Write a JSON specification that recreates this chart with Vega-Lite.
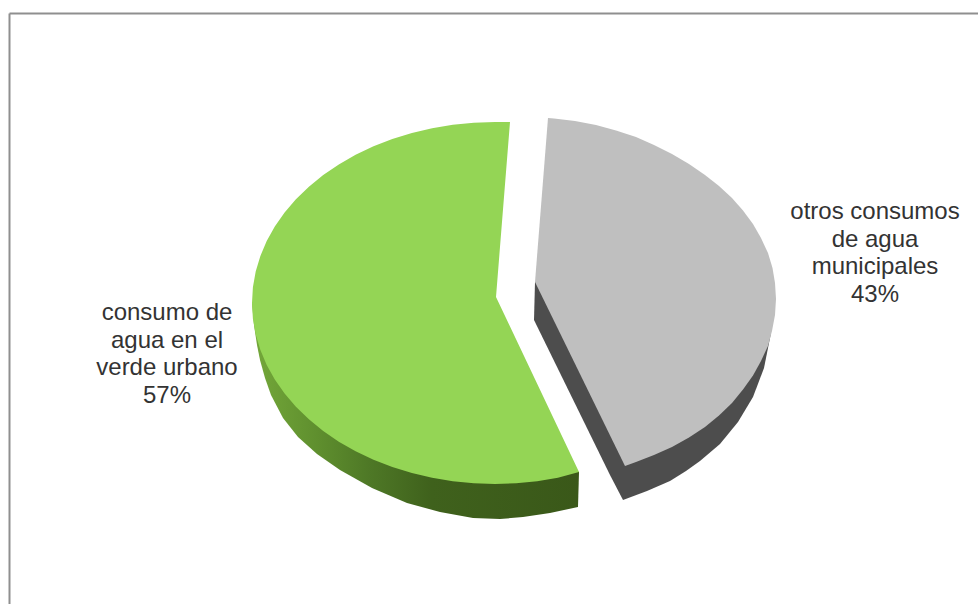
{
"$schema":"https://vega.github.io/schema/vega-lite/v6.json",
"width":969,"height":591,
"padding":{"left":9,"top":13,"right":0,"bottom":0},
"autosize":"none",
"background":"white",
"config":{"view":{"stroke":null}},
"datasets":{"outline":[
{"part":"gray side","i":0,"x":535,"y":282},{"part":"gray side","i":1,"x":534,"y":320},{"part":"gray side","i":2,"x":610,"y":475},{"part":"gray side","i":3,"x":623,"y":500},{"part":"gray side","i":4,"x":647,"y":491},{"part":"gray side","i":5,"x":670,"y":481},{"part":"gray side","i":6,"x":686,"y":471},{"part":"gray side","i":7,"x":700,"y":461},{"part":"gray side","i":8,"x":720,"y":444},{"part":"gray side","i":9,"x":738,"y":422},{"part":"gray side","i":10,"x":753,"y":397},{"part":"gray side","i":11,"x":764,"y":368},{"part":"gray side","i":12,"x":771,"y":333},{"part":"gray side","i":13,"x":700,"y":300},
{"part":"gray face","i":0,"x":548,"y":118},{"part":"gray face","i":1,"x":554,"y":118.5},{"part":"gray face","i":2,"x":575,"y":121},{"part":"gray face","i":3,"x":596,"y":125},{"part":"gray face","i":4,"x":616,"y":130.5},{"part":"gray face","i":5,"x":636,"y":137},{"part":"gray face","i":6,"x":654,"y":145},{"part":"gray face","i":7,"x":672,"y":154},{"part":"gray face","i":8,"x":689,"y":164},{"part":"gray face","i":9,"x":705,"y":175},{"part":"gray face","i":10,"x":719,"y":186},{"part":"gray face","i":11,"x":732,"y":198},{"part":"gray face","i":12,"x":743,"y":210.5},{"part":"gray face","i":13,"x":753,"y":224},{"part":"gray face","i":14,"x":761,"y":238},{"part":"gray face","i":15,"x":768,"y":253},{"part":"gray face","i":16,"x":772.5,"y":268},{"part":"gray face","i":17,"x":775,"y":283},{"part":"gray face","i":18,"x":776,"y":299},{"part":"gray face","i":19,"x":775,"y":315},{"part":"gray face","i":20,"x":772,"y":331},{"part":"gray face","i":21,"x":768,"y":346},{"part":"gray face","i":22,"x":761,"y":361},{"part":"gray face","i":23,"x":753,"y":375.5},{"part":"gray face","i":24,"x":743,"y":389.5},{"part":"gray face","i":25,"x":732,"y":403},{"part":"gray face","i":26,"x":719,"y":415.5},{"part":"gray face","i":27,"x":705,"y":427},{"part":"gray face","i":28,"x":689,"y":437.5},{"part":"gray face","i":29,"x":672,"y":447},{"part":"gray face","i":30,"x":654,"y":455},{"part":"gray face","i":31,"x":636,"y":462},{"part":"gray face","i":32,"x":625,"y":466},{"part":"gray face","i":33,"x":535,"y":282},
{"part":"green side","i":0,"x":252,"y":303},{"part":"green side","i":1,"x":254,"y":325},{"part":"green side","i":2,"x":257,"y":345},{"part":"green side","i":3,"x":260,"y":360},{"part":"green side","i":4,"x":265,"y":378},{"part":"green side","i":5,"x":271,"y":395},{"part":"green side","i":6,"x":283,"y":418},{"part":"green side","i":7,"x":298,"y":437},{"part":"green side","i":8,"x":317,"y":454},{"part":"green side","i":9,"x":340,"y":470},{"part":"green side","i":10,"x":372,"y":488},{"part":"green side","i":11,"x":407,"y":503},{"part":"green side","i":12,"x":440,"y":512},{"part":"green side","i":13,"x":473,"y":518},{"part":"green side","i":14,"x":500,"y":519},{"part":"green side","i":15,"x":523,"y":517},{"part":"green side","i":16,"x":550,"y":513},{"part":"green side","i":17,"x":578,"y":507},{"part":"green side","i":18,"x":579,"y":472},
{"part":"green face","i":0,"x":510,"y":122},{"part":"green face","i":1,"x":495,"y":122},{"part":"green face","i":2,"x":473.8,"y":122.7},{"part":"green face","i":3,"x":452.8,"y":124.8},{"part":"green face","i":4,"x":432.1,"y":128.2},{"part":"green face","i":5,"x":411.9,"y":132.9},{"part":"green face","i":6,"x":392.3,"y":139},{"part":"green face","i":7,"x":373.5,"y":146.3},{"part":"green face","i":8,"x":355.6,"y":154.7},{"part":"green face","i":9,"x":338.8,"y":164.4},{"part":"green face","i":10,"x":323.2,"y":175},{"part":"green face","i":11,"x":308.9,"y":186.7},{"part":"green face","i":12,"x":295.9,"y":199.2},{"part":"green face","i":13,"x":284.6,"y":212.5},{"part":"green face","i":14,"x":274.8,"y":226.5},{"part":"green face","i":15,"x":266.7,"y":241.1},{"part":"green face","i":16,"x":260.3,"y":256.2},{"part":"green face","i":17,"x":255.7,"y":271.6},{"part":"green face","i":18,"x":252.9,"y":287.2},{"part":"green face","i":19,"x":252,"y":303},{"part":"green face","i":20,"x":252.9,"y":318.8},{"part":"green face","i":21,"x":255.7,"y":334.4},{"part":"green face","i":22,"x":260.3,"y":349.8},{"part":"green face","i":23,"x":266.7,"y":364.9},{"part":"green face","i":24,"x":274.8,"y":379.5},{"part":"green face","i":25,"x":284.6,"y":393.5},{"part":"green face","i":26,"x":295.9,"y":406.8},{"part":"green face","i":27,"x":308.9,"y":419.3},{"part":"green face","i":28,"x":323.2,"y":431},{"part":"green face","i":29,"x":338.8,"y":441.7},{"part":"green face","i":30,"x":355.6,"y":451.3},{"part":"green face","i":31,"x":373.5,"y":459.8},{"part":"green face","i":32,"x":392.3,"y":467},{"part":"green face","i":33,"x":411.9,"y":473.1},{"part":"green face","i":34,"x":432.1,"y":477.8},{"part":"green face","i":35,"x":452.8,"y":481.2},{"part":"green face","i":36,"x":473.8,"y":483.3},{"part":"green face","i":37,"x":495,"y":484},{"part":"green face","i":38,"x":516.2,"y":483.3},{"part":"green face","i":39,"x":537.2,"y":481.2},{"part":"green face","i":40,"x":557.9,"y":477.8},{"part":"green face","i":41,"x":579,"y":472},{"part":"green face","i":42,"x":496,"y":297}
],
"labels":[
{"slice":"consumo de agua en el verde urbano","percent":57,"label":"consumo de\nagua en el\nverde urbano\n57%","x":167,"y":313},
{"slice":"otros consumos de agua municipales","percent":43,"label":"otros consumos\nde agua\nmunicipales\n43%","x":875,"y":212}
]},
"data":{"name":"outline"},
"encoding":{
"x":{"field":"x","type":"quantitative","scale":{"domain":[9,978],"nice":false,"zero":false},"axis":{"orient":"top","title":null,"labels":false,"ticks":false,"grid":false,"domain":true,"domainColor":"#8f8f8f","domainWidth":2}},
"y":{"field":"y","type":"quantitative","scale":{"domain":[604,13],"nice":false,"zero":false},"axis":{"orient":"left","title":null,"labels":false,"ticks":false,"grid":false,"domain":true,"domainColor":"#8f8f8f","domainWidth":2}},
"order":{"field":"i","type":"quantitative"}
},
"layer":[
{"transform":[{"filter":"datum.part=='gray side'"}],"mark":{"type":"line","filled":true,"fill":"#4d4d4d","stroke":null}},
{"transform":[{"filter":"datum.part=='gray face'"}],"mark":{"type":"line","filled":true,"fill":"#bfbfbf","stroke":null}},
{"transform":[{"filter":"datum.part=='green side'"}],"mark":{"type":"line","filled":true,"stroke":null,"fill":{"gradient":"linear","x1":0,"x2":1,"y1":0,"y2":0,"stops":[{"offset":0,"color":"#74a83a"},{"offset":0.2,"color":"#5f8f2e"},{"offset":0.36,"color":"#4e7826"},{"offset":0.55,"color":"#3f611c"},{"offset":1,"color":"#3a5819"}]}}},
{"transform":[{"filter":"datum.part=='green face'"}],"mark":{"type":"line","filled":true,"fill":"#94d555","stroke":null}},
{"data":{"name":"labels"},"mark":{"type":"text","font":"Liberation Sans","fontSize":24,"lineHeight":27.7,"lineBreak":"\n","align":"center","baseline":"middle","color":"#333333"},"encoding":{"text":{"field":"label"},"order":{"value":null}}}
]
}
